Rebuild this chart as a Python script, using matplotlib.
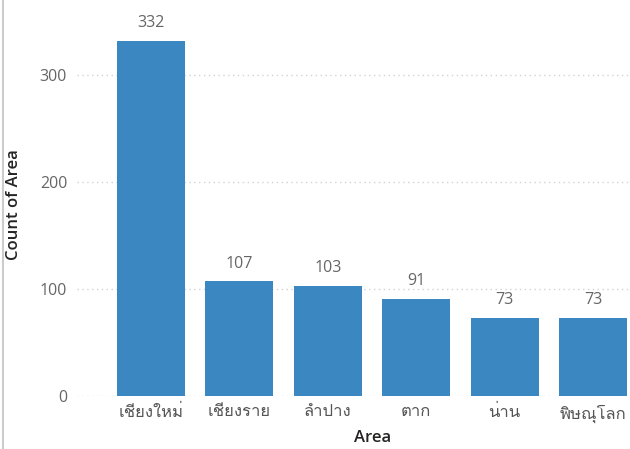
import matplotlib
matplotlib.use("Agg")
import matplotlib.pyplot as plt
from matplotlib import font_manager
from matplotlib.ft2font import FT2Font

# data
areas = ["เชียงใหม่", "เชียงราย", "ลำปาง", "ตาก", "น่าน", "พิษณุโลก"]
counts = [332, 107, 103, 91, 73, 73]
yticks = [0, 100, 200, 300]

# find an installed font that has Thai glyphs
thai_font = None
for f in font_manager.fontManager.ttflist:
    try:
        if 0x0E40 in FT2Font(f.fname).get_charmap():
            thai_font = f.name
            break
    except Exception:
        pass
fams = ["Open Sans", "DejaVu Sans"]
if thai_font:
    fams = ["Open Sans", thai_font, "DejaVu Sans"]
plt.rcParams["font.family"] = fams

fig = plt.figure(figsize=(6.30, 4.49), dpi=100)
ax = fig.add_axes([0.122, 0.118, 0.878, 0.837])

x = list(range(len(areas)))
ax.bar(x, counts, width=0.77, color="#3A87C1", zorder=3)
for xi, c in zip(x, counts):
    ax.text(xi, c + 9, str(c), ha="center", va="bottom", fontsize=11.5, color="#666666")

ax.set_xlim(-0.84, 5.42)
ax.set_ylim(0, 351)
ax.set_yticks(yticks)
ax.set_xticks(x)
ax.set_xticklabels(areas, fontsize=12, color="#555555")
ax.tick_params(axis="y", labelsize=11.5, labelcolor="#666666", length=0, pad=7)
ax.tick_params(axis="x", length=0, pad=6)
ax.grid(axis="y", linestyle=(0, (1, 2.5)), color="#D2D2D2", linewidth=1, zorder=0)
for s in ax.spines.values():
    s.set_visible(False)

ax.set_ylabel("Count of Area", fontsize=12, color="#252423", fontweight="semibold")
ax.yaxis.set_label_coords(-0.10, 0.51)
ax.set_xlabel("Area", fontsize=12, color="#252423", fontweight="semibold")
ax.xaxis.set_label_coords(0.535, -0.111)
ax.xaxis.label.set_va("center")

# frame line on the left of the screenshot
fig.add_artist(plt.Line2D([0.005, 0.005], [0, 1], color="#CCCCCC", linewidth=1.5))

fig.savefig("out.png", dpi=100)
